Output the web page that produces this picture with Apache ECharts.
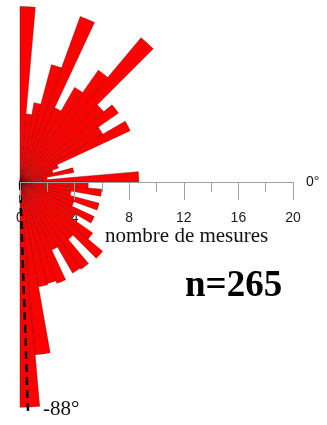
<!DOCTYPE html>
<html>
<head>
<meta charset="utf-8">
<script src="https://cdn.jsdelivr.net/npm/echarts@6/dist/echarts.min.js"></script>
<style>
  html, body { margin: 0; padding: 0; background: #fff; }
  #chart { width: 327px; height: 425px; }
</style>
</head>
<body>
<div id="chart"></div>
<script>
// Orientation classes, 5° wide, counted upward from 0° to 90°
const upperBins = ['0-5','5-10','10-15','15-20','20-25','25-30','30-35','35-40','40-45',
                   '45-50','50-55','55-60','60-65','65-70','70-75','75-80','80-85','85-90'];
const upperCounts = [8.7, 2, 4, 2.5, 3, 8.9, 7, 8.8, 8, 13.8, 10, 8, 6, 12.9, 8.9, 5.9, 5, 12.85];

// Orientation classes counted downward from 0° to -90°
const lowerBins = ['0--5','-5--10','-10--15','-15--20','-20--25','-25--30','-30--35','-35--40','-40--45',
                   '-45--50','-50--55','-55--60','-60--65','-65--70','-70--75','-75--80','-80--85','-85--90'];
const lowerCounts = [5, 6, 3.8, 6, 4.2, 6, 4.6, 6.5, 7.9, 5.5, 7.8, 7.7, 5.5, 7.9, 7.7, 7.8, 12.7, 16.5];

// Radial scale (number of measurements)
const radiusMin = 0;
const radiusMax = 20;
const tickStep = 4;

// Mean direction marker
const meanAngle = -88;
const meanLength = 16.8;

const totalLabel = 'n=265';
const axisTitle = 'nombre de mesures';
const zeroLabel = '0°';
const meanLabel = meanAngle + '°';

// Full circle of 72 classes, counter-clockwise from 0°; the left half stays empty
const categories = [];
const values = [];
for (let i = 0; i < 18; i++) { categories.push(upperBins[i]); values.push(upperCounts[i]); }
for (let i = 0; i < 36; i++) { categories.push('e' + i); values.push(0); }
for (let i = 17; i >= 0; i--) { categories.push(lowerBins[i]); values.push(lowerCounts[i]); }

const CX = 20, CY = 182, R = 273;
const serif = '"Liberation Serif", "DejaVu Serif", serif';
const sans = '"Liberation Sans", Arial, sans-serif';

const chart = echarts.init(document.getElementById('chart'), null, { renderer: 'canvas' });

const xAxisBase = {
  type: 'value', min: radiusMin, max: radiusMax, interval: tickStep,
  position: 'bottom', splitLine: { show: false }
};

chart.setOption({
  animation: false,
  backgroundColor: '#fff',
  polar: [
    { center: [CX, CY], radius: R },
    { center: [CX, CY], radius: R }
  ],
  angleAxis: [
    {
      polarIndex: 0, type: 'category', data: categories, startAngle: 0, clockwise: false,
      boundaryGap: true, axisLine: { show: false }, axisTick: { show: false },
      axisLabel: { show: false }, splitLine: { show: false }
    },
    {
      polarIndex: 1, type: 'value', min: 0, max: 360, startAngle: 0, clockwise: false,
      axisLine: { show: false }, axisTick: { show: false },
      axisLabel: { show: false }, splitLine: { show: false }
    }
  ],
  radiusAxis: [
    { polarIndex: 0, type: 'value', min: radiusMin, max: radiusMax, show: false,
      axisLine: { show: false }, axisTick: { show: false }, axisLabel: { show: false }, splitLine: { show: false } },
    { polarIndex: 1, type: 'value', min: radiusMin, max: radiusMax, show: false,
      axisLine: { show: false }, axisTick: { show: false }, axisLabel: { show: false }, splitLine: { show: false } }
  ],
  grid: [
    { left: CX, top: 0, width: R, height: CY },
    { left: CX, top: 0, width: R, height: CY }
  ],
  xAxis: [
    // tick labels, drawn beneath the bars
    Object.assign({}, xAxisBase, {
      gridIndex: 0, z: 0,
      axisLine: { show: false }, axisTick: { show: false },
      axisLabel: { margin: 29, fontFamily: sans, fontSize: 14, color: '#1a1a1a' }
    }),
    // axis line and ticks, drawn over the bars
    Object.assign({}, xAxisBase, {
      gridIndex: 1, z: 5,
      axisLine: { lineStyle: { color: '#a0a0a0', width: 1 } },
      axisTick: { length: 18, lineStyle: { color: '#a0a0a0', width: 1 } },
      minorTick: { show: true, splitNumber: 2, length: 10, lineStyle: { color: '#a0a0a0', width: 1 } },
      axisLabel: { show: false }
    })
  ],
  yAxis: [
    { gridIndex: 0, type: 'value', min: 0, max: 1, show: false },
    { gridIndex: 1, type: 'value', min: 0, max: 1, show: false }
  ],
  series: [
    {
      type: 'bar', coordinateSystem: 'polar', polarIndex: 0,
      data: values, barCategoryGap: '0%', z: 2,
      itemStyle: { color: '#ff0000', borderColor: '#600000', borderWidth: 0.4 }
    },
    {
      type: 'line', coordinateSystem: 'polar', polarIndex: 1, z: 4,
      data: [[0, 360 + meanAngle], [meanLength, 360 + meanAngle]],
      symbol: 'none',
      lineStyle: { color: '#000', width: 2.5, type: [8, 5] }
    }
  ],
  graphic: [
    { type: 'text', left: 306, top: 175, z: 10,
      style: { text: zeroLabel, font: '14px ' + sans, fill: '#111' } },
    { type: 'text', left: 43, top: 399, z: 10,
      style: { text: meanLabel, font: '21px ' + serif, fill: '#111' } },
    { type: 'text', left: 105, top: 226, z: 10,
      style: { text: axisTitle, font: '21px ' + serif, fill: '#111' } },
    { type: 'text', left: 185, top: 268, z: 10,
      style: { text: totalLabel, font: 'bold 37px ' + serif, fill: '#000' } }
  ]
});
</script>
</body>
</html>
